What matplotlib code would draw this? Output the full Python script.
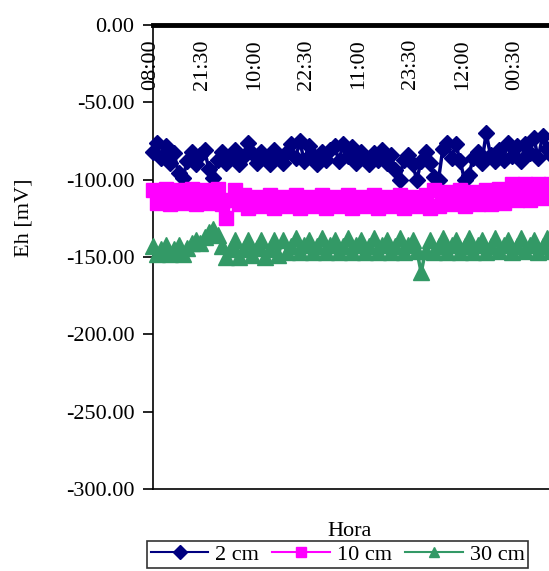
import matplotlib
matplotlib.use("Agg")
import matplotlib.pyplot as plt
import matplotlib.transforms as mtransforms
from matplotlib.ticker import FuncFormatter, MultipleLocator

# ---- data ----
tick_labels = ["08:00", "21:30", "10:00", "22:30", "11:00", "23:30", "12:00", "00:30"]
tick_step = 12  # samples between labelled categories

eh_2cm = [-82, -76, -86, -78, -89, -83, -96, -99, -88, -82, -90, -84, -81, -93, -99, -87,
          -82, -89, -84, -81, -90, -85, -76, -83, -89, -82, -86, -90, -81, -85, -89, -82,
          -77, -86, -75, -88, -78, -84, -90, -82, -87, -81, -78, -88, -77, -85, -79, -89,
          -82, -86, -90, -83, -87, -81, -89, -84, -94, -100, -87, -84, -90, -100, -88, -82,
          -89, -98, -100, -80, -76, -86, -77, -88, -100, -97, -86, -82, -89, -70, -84, -88,
          -81, -87, -76, -85, -78, -88, -77, -83, -73, -86, -72, -80, -84]

eh_10cm = [-107, -115, -110, -106, -116, -111, -107, -115, -110, -106, -116, -111, -107, -115, -110, -106,
           -116, -125, -113, -107, -116, -110, -118, -114, -111, -117, -115, -110, -118, -114, -111, -117,
           -115, -110, -118, -114, -111, -117, -115, -110, -118, -114, -111, -117, -115, -110, -118, -114,
           -111, -117, -115, -110, -118, -114, -111, -117, -115, -110, -118, -114, -111, -117, -115, -110,
           -118, -107, -117, -112, -108, -116, -112, -107, -117, -112, -108, -116, -112, -107, -116, -111,
           -106, -115, -110, -103, -113, -108, -103, -113, -108, -103, -112, -108, -103]

eh_30cm = [-143, -148, -145, -142, -148, -145, -142, -148, -144, -141, -139, -141, -137, -134, -132, -136,
           -143, -150, -145, -139, -150, -145, -139, -149, -144, -139, -150, -145, -139, -149, -139, -147,
           -143, -138, -147, -142, -139, -147, -143, -138, -147, -142, -139, -147, -143, -138, -147, -142,
           -139, -147, -143, -138, -147, -142, -139, -147, -143, -138, -147, -142, -139, -146, -160, -146,
           -139, -147, -143, -138, -147, -142, -139, -147, -143, -138, -147, -142, -139, -147, -143, -138,
           -146, -142, -139, -147, -143, -138, -146, -142, -139, -147, -143, -138, -146]

series_names = ["2 cm", "10 cm", "30 cm"]

# ---- figure ----
W, H = 549, 571
fig = plt.figure(figsize=(W / 100, H / 100), dpi=100)
fig.patch.set_facecolor("white")
ax = fig.add_axes([152.5 / W, 1 - 489 / H, (W - 152.5) / W, (489 - 25) / H])

serif = "Liberation Serif"
fs = 16
step_px = 52.0 / tick_step

styles = [("#000080", "D", 8.5), ("#FF00FF", "s", 9.5), ("#339966", "^", 11.0)]
for vals, name, (col, mk, ms) in zip([eh_2cm, eh_10cm, eh_30cm], series_names, styles):
    ax.plot(range(len(vals)), vals, color=col, marker=mk, markersize=ms, linewidth=2.5,
            label=name, clip_on=False, zorder=3)

ax.set_ylim(-300, 0)
ax.set_xlim(0, (W - 152.5) / step_px)
ax.yaxis.set_major_locator(MultipleLocator(50))
ax.yaxis.set_major_formatter(FuncFormatter(lambda v, p: f"{v:.2f}".replace("-0.00", "0.00")))
ax.tick_params(axis="y", direction="out", length=7, width=1.2, pad=6, labelsize=fs)
for t in ax.get_yticklabels():
    t.set_fontfamily(serif)

ax.set_xticks([])
offs = mtransforms.offset_copy(ax.get_xaxis_transform(), fig=fig, x=-2, y=-14, units="dots")
for k, lab in enumerate(tick_labels):
    ax.text(k * tick_step, 1.0, lab, transform=offs, rotation=90, ha="center", va="top",
            fontsize=fs, family=serif)

ax.spines["right"].set_visible(False)
ax.spines["top"].set_linewidth(3.5)
ax.spines["left"].set_linewidth(1.2)
ax.spines["bottom"].set_linewidth(1.2)

fig.text(24 / W, 1 - 218 / H, "Eh [mV]", rotation=90, ha="center", va="center",
         fontsize=fs, family=serif)
fig.text(350 / W, 1 - 532 / H, "Hora", ha="center", va="center", fontsize=fs, family=serif)

leg = fig.legend(loc="upper center", bbox_to_anchor=(337.5 / W, 1 - 541 / H), ncol=3,
                 frameon=True, fancybox=False, shadow=False, edgecolor="black",
                 prop={"family": serif, "size": fs}, handlelength=2.6, handletextpad=0.3,
                 columnspacing=0.6, borderpad=0.15, borderaxespad=0)
leg.get_frame().set_linewidth(1.2)
for h in leg.legend_handles:
    h.set_markersize(7)
    h.set_linewidth(1.5)

fig.savefig("out.png", dpi=100, facecolor="white")
